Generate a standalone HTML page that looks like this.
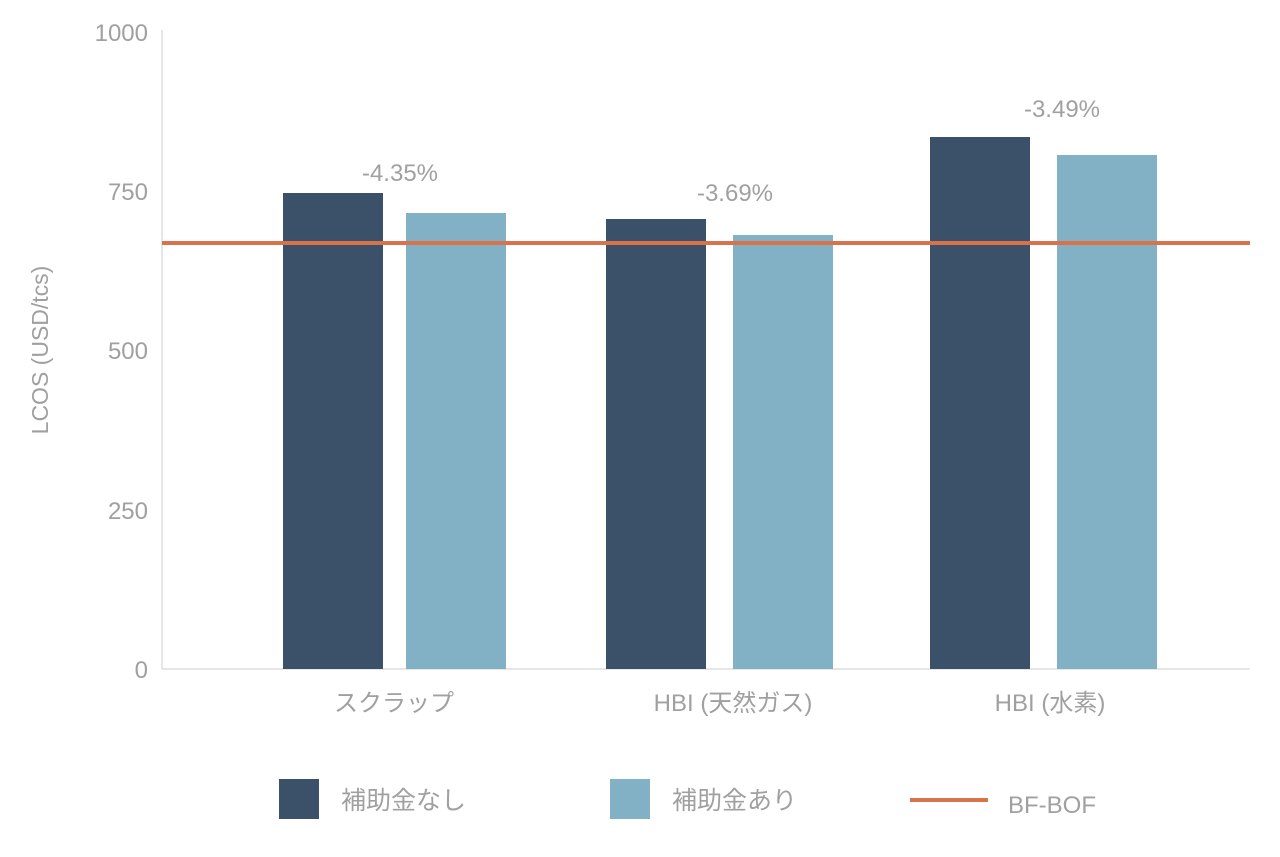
<!DOCTYPE html>
<html><head><meta charset="utf-8"><style>
body{margin:0;background:#fff;}
svg text{font-family:"Liberation Sans","Noto Sans CJK JP",sans-serif;fill:#a0a0a0;}
</style></head><body>
<svg width="1280" height="852" xmlns="http://www.w3.org/2000/svg">
<g font-size="24" text-anchor="end">
<text x="148" y="41">1000</text>
<text x="148" y="200">750</text>
<text x="148" y="359">500</text>
<text x="148" y="519">250</text>
<text x="148" y="678">0</text>
</g>
<text transform="translate(48,350) rotate(-90)" font-size="23" text-anchor="middle">LCOS (USD/tcs)</text>
<line x1="162" y1="30" x2="162" y2="669" stroke="#ccc" stroke-width="1"/>
<line x1="162" y1="669" x2="1250" y2="669" stroke="#ccc" stroke-width="1"/>
<rect x="283" y="193" width="100" height="476" fill="#3b5069"/>
<rect x="406" y="213" width="100" height="456" fill="#82b0c5"/>
<rect x="606" y="219" width="100" height="450" fill="#3b5069"/>
<rect x="733" y="235" width="100" height="434" fill="#82b0c5"/>
<rect x="930" y="137" width="100" height="532" fill="#3b5069"/>
<rect x="1057" y="155" width="100" height="514" fill="#82b0c5"/>
<line x1="162" y1="243" x2="1250" y2="243" stroke="#d9714a" stroke-width="4"/>
<g font-size="24" text-anchor="middle">
<text x="400" y="181">-4.35%</text>
<text x="735" y="201">-3.69%</text>
<text x="1062" y="117">-3.49%</text>
<text x="394" y="711">スクラップ</text>
<text x="733" y="711">HBI (天然ガス)</text>
<text x="1050" y="711">HBI (水素)</text>
</g>
<rect x="279" y="779" width="40" height="40" fill="#3b5069"/>
<text x="341" y="809" font-size="25">補助金なし</text>
<rect x="610" y="779" width="40" height="40" fill="#82b0c5"/>
<text x="672" y="809" font-size="25">補助金あり</text>
<line x1="910" y1="800" x2="988" y2="800" stroke="#d9714a" stroke-width="4"/>
<text x="1008" y="813" font-size="24">BF-BOF</text>
</svg>
</body></html>
